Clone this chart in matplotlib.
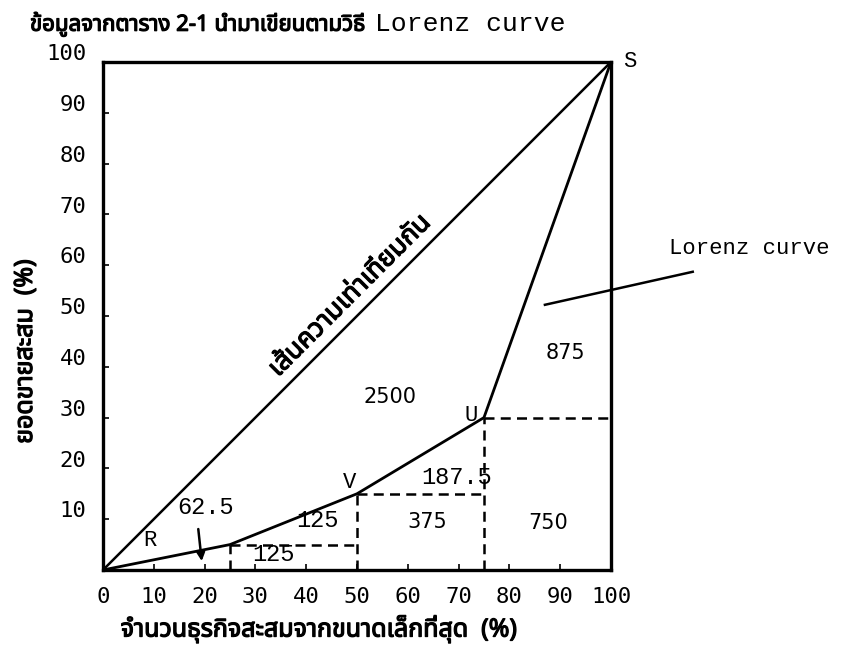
import numpy as np
import matplotlib
matplotlib.use("Agg")
import matplotlib.pyplot as plt
import matplotlib.transforms as mtransforms
import matplotlib.patheffects as pe
from matplotlib import font_manager

# Lorenz curve data (cumulative % of firms vs cumulative % of sales)
firms_cum = [0, 25, 50, 75, 100]
sales_cum = [0, 5, 15, 30, 100]
point_names = ["", "", "V", "U", "S"]

# areas of the pieces under the curve
area_values = ["62.5", "125", "125", "375", "187.5", "750", "875", "2500"]

x_ticks = [0, 10, 20, 30, 40, 50, 60, 70, 80, 90, 100]
y_ticks = [10, 20, 30, 40, 50, 60, 70, 80, 90, 100]

title_thai = "ข้อมูลจากตาราง 2-1 นำมาเขียนตามวิธี"
title_latin = "Lorenz curve"
xlabel = "จำนวนธุรกิจสะสมจากขนาดเล็กที่สุด  (%)"
ylabel = "ยอดขายสะสม  (%)"
equal_label = "เส้นความเท่าเทียมกัน"
curve_label = "Lorenz curve"

# pick a font that has Thai glyphs if one is around
candidates = ["Noto Sans Thai", "Noto Serif Thai", "Loma", "Garuda", "Tlwg Typo",
              "Waree", "Sawasdee", "Norasi", "Kinnari", "Umpush", "Laksaman"]
installed = {f.name for f in font_manager.fontManager.ttflist}
thai_family = [f for f in candidates if f in installed] + ["DejaVu Sans"]
mono = ["Liberation Mono", "DejaVu Sans Mono"]
bold = [pe.withStroke(linewidth=0.9, foreground="black")]

fig = plt.figure(figsize=(8.54, 6.6), dpi=100)
ax = fig.add_axes([0.1206, 0.1364, 0.5948, 0.7697])

ax.set_xlim(0, 100)
ax.set_ylim(0, 100)

# line of equality and Lorenz curve
ax.plot([0, 100], [0, 100], color="black", lw=1.8)
ax.plot(firms_cum, sales_cum, color="black", lw=2.0)

# dashed construction lines
for i in range(1, len(firms_cum) - 1):
    ax.plot([firms_cum[i], firms_cum[i]], [0, sales_cum[i]], color="black",
            lw=1.8, ls=(0, (4, 2.5)))
    ax.plot([firms_cum[i], firms_cum[i + 1]], [sales_cum[i], sales_cum[i]],
            color="black", lw=1.8, ls=(0, (4, 2.5)))

# point labels
ax.text(9.3, 5.9, "R", family=mono, fontsize=16, ha="center", va="center")
ax.text(48.6, 17.3, point_names[2], family=mono, fontsize=16, ha="center", va="center")
ax.text(72.4, 30.5, point_names[3], family=mono, fontsize=16, ha="center", va="center")
ax.text(102.3, 100, point_names[4], family=mono, fontsize=16, ha="left",
        va="center", clip_on=False)

# area labels
mono_pos = {0: (20.1, 12.2), 1: (42.3, 9.8), 2: (33.5, 3.0), 4: (69.7, 18.3)}
sans_pos = {3: (63.8, 9.4), 5: (87.6, 9.2), 6: (91.0, 42.7), 7: (56.5, 34.0)}
for k, (x, y) in mono_pos.items():
    ax.text(x, y, area_values[k], family=mono, fontsize=17, ha="center", va="center")
for k, (x, y) in sans_pos.items():
    ax.text(x, y, area_values[k], family="DejaVu Sans", fontsize=15,
            ha="center", va="center")

ax.annotate("", xy=(19.5, 1.2), xytext=(18.7, 8.6),
            arrowprops=dict(arrowstyle="-|>", color="black", lw=1.8, mutation_scale=12))

# label along the diagonal
ax.text(48.6, 54.0, equal_label, family=thai_family, fontsize=19,
        rotation=45, rotation_mode="anchor", ha="center", va="center",
        path_effects=bold)

# Lorenz curve callout outside the box
ax.plot([87.0, 116.1], [52.2, 58.7], color="black", lw=1.8, clip_on=False)
ax.text(111.5, 63.2, curve_label, family=mono, fontsize=16, ha="left", va="center",
        clip_on=False)

# axes styling
for s in ax.spines.values():
    s.set_linewidth(2.4)
ax.set_xticks(x_ticks)
ax.set_yticks(y_ticks)
ax.set_xticklabels([str(v) for v in x_ticks])
ax.set_yticklabels([str(v) for v in y_ticks])
ax.tick_params(direction="in", length=4, width=1.2, pad=12)
for lab in ax.get_xticklabels() + ax.get_yticklabels():
    lab.set_fontfamily(["DejaVu Sans Mono"])
    lab.set_fontsize(16)
shift = mtransforms.ScaledTranslation(0, 7 / 72, fig.dpi_scale_trans)
for lab in ax.get_yticklabels():
    lab.set_transform(lab.get_transform() + shift)

ax.set_xlabel(xlabel, family=thai_family, fontsize=18, path_effects=bold)
ax.xaxis.set_label_coords(0.425, -0.088)
ax.set_ylabel(ylabel, family=thai_family, fontsize=18, path_effects=bold)
ax.yaxis.set_label_coords(-0.128, 0.43)

# title, thai part then the typewriter part right after it
t1 = fig.text(30 / 854, 1 - 24 / 660, title_thai, family=thai_family, fontsize=16,
              ha="left", va="center", path_effects=bold)
renderer = fig.canvas.get_renderer()
x_end = t1.get_window_extent(renderer).x1
fig.text((x_end + 10) / fig.bbox.width, 1 - 24 / 660, title_latin, family=mono,
         fontsize=19, ha="left", va="center")

fig.savefig("out.png", dpi=100)
